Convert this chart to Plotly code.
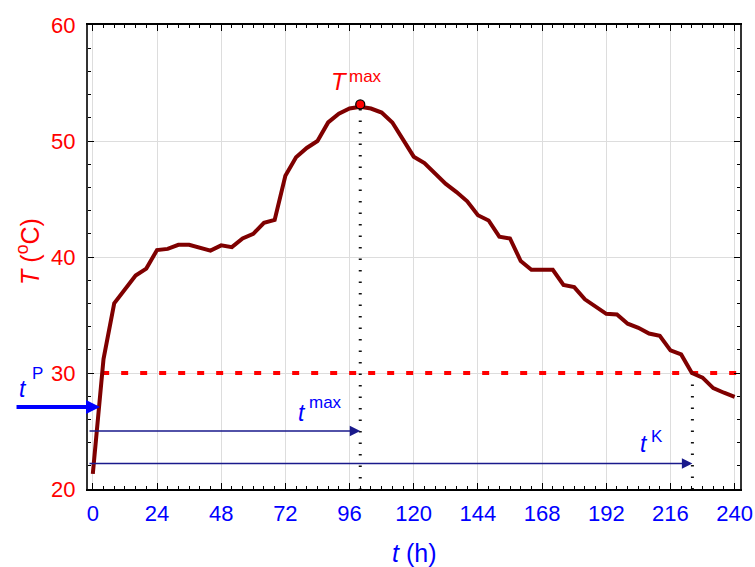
import plotly.graph_objects as go

# Temperature profile over time
hours = list(range(0, 241, 4))
temperature = [
    21.3, 31.2, 36.0, 37.2, 38.4, 39.0, 40.6, 40.7, 41.05, 41.05,
    40.8, 40.55, 41.0, 40.85, 41.6, 42.0, 42.95, 43.2, 47.0, 48.6,
    49.4, 50.0, 51.6, 52.35, 52.8, 52.95, 52.8, 52.45, 51.6, 50.1,
    48.65, 48.1, 47.2, 46.3, 45.6, 44.8, 43.6, 43.15, 41.75, 41.6,
    39.65, 38.9, 38.9, 38.9, 37.6, 37.4, 36.35, 35.7, 35.1, 35.05,
    34.25, 33.9, 33.4, 33.2, 31.95, 31.6, 30.0, 29.6, 28.7, 28.3,
    27.95,
]

# Characteristic points
t_max, T_max = 100, 53.15
t_K = 224.2
t_P = 2.7
T_threshold = 30
x_ticks = list(range(0, 241, 24))
y_ticks = [20, 30, 40, 50, 60]

x_range = [-1.8, 242]
y_range = [20, 60]

# arrow heights (in °C units)
y_tP, y_tmax, y_tK = 27.06, 25.0, 22.2

RED = "#ff0000"
BLUE = "#0000ff"
NAVY = "#1a1a8c"
FONT = "Liberation Sans, Arial, sans-serif"

fig = go.Figure()

# threshold line
fig.add_trace(go.Scatter(
    x=[3.5, x_range[1]], y=[T_threshold, T_threshold], mode="lines",
    line=dict(color=RED, width=4, dash="7px,12px"), hoverinfo="skip",
))
# vertical guides
fig.add_trace(go.Scatter(
    x=[t_max, t_max], y=[T_max - 0.4, y_range[0]], mode="lines",
    line=dict(color="#111111", width=3, dash="1.5px,10px"), hoverinfo="skip",
))
fig.add_trace(go.Scatter(
    x=[t_K, t_K], y=[T_threshold, y_range[0]], mode="lines",
    line=dict(color="#111111", width=3, dash="1.5px,10px"), hoverinfo="skip",
))
# temperature curve
fig.add_trace(go.Scatter(
    x=hours, y=temperature, mode="lines",
    line=dict(color="#7f0000", width=4), hoverinfo="skip",
))
# maximum marker
fig.add_trace(go.Scatter(
    x=[t_max], y=[T_max], mode="markers",
    marker=dict(color=RED, size=9, line=dict(color="black", width=1.3)),
    hoverinfo="skip",
))

annotations = []
# arrows
annotations.append(dict(
    x=t_P, y=y_tP, xref="x", yref="y", ax=-85, ay=0, axref="pixel", ayref="pixel",
    showarrow=True, arrowhead=2, arrowsize=0.7, arrowwidth=4, arrowcolor=BLUE,
    standoff=0, text="",
))
annotations.append(dict(
    x=t_max, y=y_tmax, xref="x", yref="y", ax=x_range[0], ay=y_tmax,
    axref="x", ayref="y", showarrow=True, arrowhead=2, arrowsize=1.5,
    arrowwidth=1.4, arrowcolor=NAVY, standoff=0, text="",
))
annotations.append(dict(
    x=t_K, y=y_tK, xref="x", yref="y", ax=x_range[0], ay=y_tK,
    axref="x", ayref="y", showarrow=True, arrowhead=2, arrowsize=1.5,
    arrowwidth=1.4, arrowcolor=NAVY, standoff=0, text="",
))


def label(text, x, y, size, color, xshift=0, yshift=0, xref="x", yref="y"):
    return dict(
        text=text, x=x, y=y, xref=xref, yref=yref, showarrow=False,
        xanchor="center", yanchor="middle", xshift=xshift, yshift=yshift,
        font=dict(family=FONT, size=size, color=color),
    )


annotations += [
    label("<i>T</i>", t_max, T_max, 24, RED, -20.5, 23),
    label("max", t_max, T_max, 17, RED, 5, 28),
    label("<i>t</i>", t_max, y_tmax, 23, BLUE, -58, 18),
    label("max", t_max, y_tmax, 17, BLUE, -35, 29),
    label("<i>t</i>", t_K, y_tK, 23, BLUE, -48, 19.5),
    label("K", t_K, y_tK, 17, BLUE, -35, 26.5),
    label("<i>t</i>", -0.1, 0.216, 23, BLUE, xref="paper", yref="paper"),
    label("P", -0.078, 0.248, 17, BLUE, xref="paper", yref="paper"),
    # axis titles
    label("<i>t</i> (h)", 0.5, -0.138, 25, BLUE, xref="paper", yref="paper"),
    dict(
        text="<i>T</i> (<sup>o</sup>C)", x=-0.092, y=0.511, xref="paper", yref="paper",
        showarrow=False, textangle=-90, xanchor="center", yanchor="middle",
        font=dict(family=FONT, size=25, color=RED),
    ),
]

fig.update_layout(
    width=755, height=567,
    margin=dict(l=88, r=15, t=25, b=78, autoexpand=False),
    paper_bgcolor="white", plot_bgcolor="white",
    showlegend=False,
    font=dict(family=FONT),
    annotations=annotations,
    xaxis=dict(
        range=x_range, tickvals=x_ticks, ticktext=[str(v) for v in x_ticks],
        tickfont=dict(size=22, color=BLUE, family=FONT), automargin=False,
        showgrid=True, gridcolor="#dddddd", gridwidth=1, zeroline=False,
        showline=True, linecolor="black", linewidth=1.5, mirror="ticks",
        ticks="inside", ticklen=6, tickcolor="black", tickwidth=1,
        minor=dict(dtick=4, tick0=0, ticks="inside", ticklen=3, tickcolor="black",
                   showgrid=False),
        ticklabelstandoff=4,
    ),
    yaxis=dict(
        range=y_range, tickvals=y_ticks, ticktext=[str(v) for v in y_ticks],
        tickfont=dict(size=22, color=RED, family=FONT), automargin=False,
        showgrid=True, gridcolor="#dddddd", gridwidth=1, zeroline=False,
        showline=True, linecolor="#333333", linewidth=2, mirror="ticks",
        ticks="inside", ticklen=6, tickcolor="black", tickwidth=1,
        minor=dict(dtick=2, tick0=0, ticks="inside", ticklen=3, tickcolor="black",
                   showgrid=False),
        ticklabelstandoff=6,
    ),
)

fig.write_html("out.html")
